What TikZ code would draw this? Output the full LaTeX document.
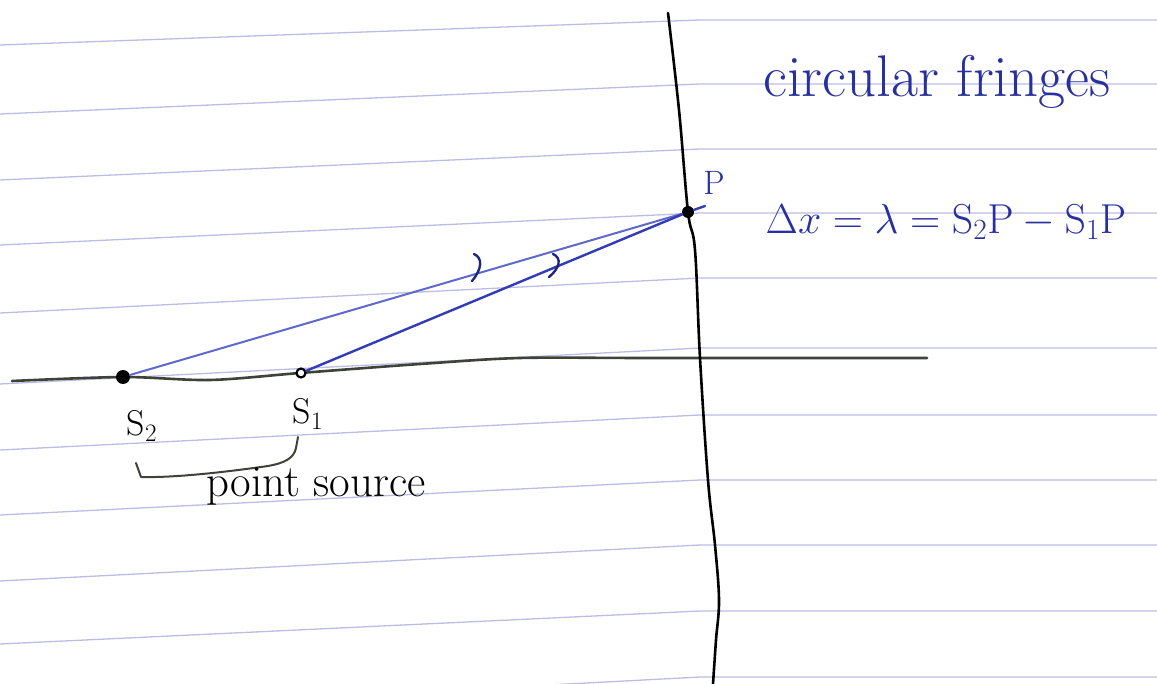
\RequirePackage{fix-cm}
\documentclass[tikz,border=0pt]{standalone}
\usetikzlibrary{calc}
\definecolor{rulecol}{RGB}{188,188,230}
\definecolor{inkblue}{RGB}{40,48,160}
\definecolor{rayA}{RGB}{95,105,205}
\definecolor{rayB}{RGB}{50,60,180}
\definecolor{axiscol}{RGB}{62,66,56}
\begin{document}
\begin{tikzpicture}[x=1bp,y=-1bp,
  ruled/.style={draw=rulecol, line width=1.3bp},
  axisline/.style={draw=axiscol, line width=2.6bp, line cap=round},
  screenline/.style={draw=black, line width=2.6bp, line cap=round},
  rayS2/.style={draw=rayA, line width=2bp, line cap=round},
  rayS1/.style={draw=rayB, line width=2.4bp, line cap=round},
  arrmark/.style={draw=inkblue!80!black, line width=2.4bp, line cap=round},
  dotfill/.style={circle, fill=black, inner sep=0pt, minimum size=#1},
  ringdot/.style={circle, draw=black, fill=white, line width=2.2bp, inner sep=0pt, minimum size=9bp},
  blacklab/.style={text=black, inner sep=0pt},
  bluelab/.style={text=inkblue, inner sep=0pt},
  brk/.style={draw=axiscol, line width=2bp, line cap=round, line join=round}
]
\useasboundingbox (0,0) rectangle (1157,684);
\fill[white] (0,0) rectangle (1157,684);
\begin{scope}
\clip (0,0) rectangle (1157,684);
% ruled paper lines
\foreach \yl/\ym in {45/20,114/84,180/149,245/213,313/278,384/348,450/415,515/480,581/545,644/611,714/677}{
  \draw[ruled] (0,\yl) -- (700,\ym) -- (1157,\ym);
}
% optical axis
\draw[axisline] plot[smooth, tension=0.5] coordinates {(12,381) (123,377) (210,380) (300,373) (420,364) (520,358) (650,358) (927,358)};
% screen
\draw[screenline] plot[smooth, tension=0.6] coordinates {(668,13) (679,110) (688,212) (695,250) (700,358) (708,480) (715,545) (719,600) (716,640) (713,684)};
\end{scope}

% points
\node[dotfill=14bp] (S2) at (123,377) {};
\node[ringdot] (S1) at (301,373) {};
\node[dotfill=12bp] (P) at (688,212) {};
\coordinate (Pext) at (705,206);

% rays
\draw[rayS2] (S2) -- (P);
\draw[rayS1] (S1) -- (P);
\draw[rayS1] (P) -- (Pext);

% direction marks on the rays
\draw[arrmark] (474,254) .. controls (483,258) and (482,269) .. (472,281);
\draw[arrmark] (553,254) .. controls (562,258) and (560,268) .. (549,277);

% labels
\node[bluelab, font=\fontsize{34}{40}\selectfont] (lP) at (714,183) {P};
\node[blacklab, font=\fontsize{36}{42}\selectfont] (lS2) at (142,426) {S$_2$};
\node[blacklab, font=\fontsize{36}{42}\selectfont] (lS1) at (308,414) {S$_1$};

% bracket under the sources
\draw[brk] (136,463) -- (141,477) .. controls (180,478) and (240,470) .. (268,466) .. controls (285,463) and (294,458) .. (296,448) -- (298,437);
\node[blacklab, font=\fontsize{45}{52}\selectfont] (lsrc) at (316,486) {point source};

% right-hand notes
\node[bluelab, font=\fontsize{59}{68}\selectfont] (lfr) at (937,82) {circular fringes};
\node[bluelab, font=\fontsize{42}{50}\selectfont] (leq) at (946,222) {$\Delta x = \lambda = \mathrm{S}_2\mathrm{P} - \mathrm{S}_1\mathrm{P}$};
\end{tikzpicture}
\end{document}
